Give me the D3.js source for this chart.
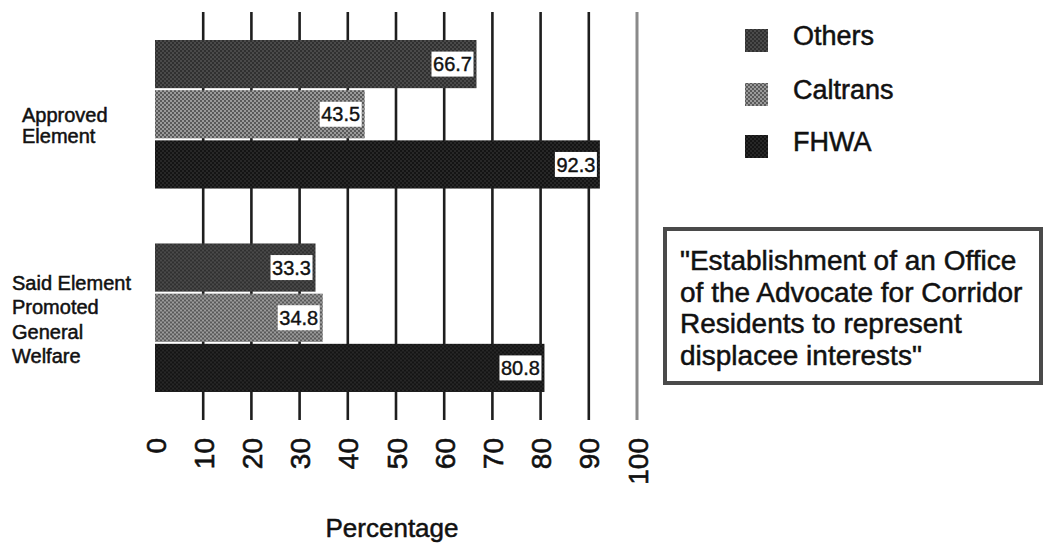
<!DOCTYPE html>
<html>
<head>
<meta charset="utf-8">
<script src="https://cdn.jsdelivr.net/npm/d3@7"></script>
<style>
  html, body { margin: 0; padding: 0; background: #fff; }
  svg { display: block; font-family: "Liberation Sans", Arial, Helvetica, sans-serif; }
</style>
</head>
<body>
<svg id="chart" width="1047" height="545"></svg>
<script>
// ---- data ----
const categories = ["Approved Element", "Said Element Promoted General Welfare"];
const categoryLines = [["Approved", "Element"], ["Said Element", "Promoted", "General", "Welfare"]];
const seriesNames = ["Others", "Caltrans", "FHWA"];
const othersValues = [66.7, 33.3];
const caltransValues = [43.5, 34.8];
const fhwaValues = [92.3, 80.8];
const tickValues = [0, 10, 20, 30, 40, 50, 60, 70, 80, 90, 100];
const axisTitle = "Percentage";
const noteLines = ["\"Establishment of an Office", "of the Advocate for Corridor", "Residents to represent", "displacee interests\""];

const seriesValues = { Others: othersValues, Caltrans: caltransValues, FHWA: fhwaValues };

const svg = d3.select("#chart");
const defs = svg.append("defs");

// halftone-like patterns
function dotPattern(id, base, dot, r, size) {
  const p = defs.append("pattern").attr("id", id).attr("patternUnits", "userSpaceOnUse")
    .attr("width", size).attr("height", size);
  p.append("rect").attr("width", size).attr("height", size).attr("fill", base);
  p.append("circle").attr("cx", size / 4).attr("cy", size / 4).attr("r", r).attr("fill", dot);
  p.append("circle").attr("cx", 3 * size / 4).attr("cy", 3 * size / 4).attr("r", r).attr("fill", dot);
}
dotPattern("pOthers", "#303030", "#6a6a6a", 0.8, 4);
dotPattern("pCaltrans", "#9a9a9a", "#3a3a3a", 0.9, 4);
dotPattern("pFHWA", "#141414", "#474747", 0.7, 4);
const fills = { Others: "url(#pOthers)", Caltrans: "url(#pCaltrans)", FHWA: "url(#pFHWA)" };

// ---- scales ----
const x = d3.scaleLinear().domain([0, 100]).range([155, 637]);
const y0 = d3.scaleBand().domain(categories).range([40, 392]).paddingInner(0.27).paddingOuter(0);
const y1 = d3.scaleBand().domain(seriesNames).range([0, y0.bandwidth()]).paddingInner(0.04);

// ---- gridlines ----
const grid = svg.append("g");
grid.selectAll("line").data(tickValues.filter(d => d > 0)).join("line")
  .attr("x1", d => x(d)).attr("x2", d => x(d))
  .attr("y1", 12).attr("y2", 420)
  .attr("stroke", d => d === 100 ? "#8a8a8a" : "#1e1e1e")
  .attr("stroke-width", d => d === 100 ? 3 : 2.6);

// ---- bars ----
const groups = svg.append("g").selectAll("g").data(categories).join("g")
  .attr("transform", d => `translate(0,${y0(d)})`);

groups.each(function (cat, ci) {
  const g = d3.select(this);
  seriesNames.forEach(s => {
    const v = seriesValues[s][ci];
    g.append("rect")
      .attr("x", x(0)).attr("y", y1(s))
      .attr("width", x(v) - x(0)).attr("height", y1.bandwidth())
      .attr("fill", fills[s]);
    const bw = 42, bh = 25;
    g.append("rect")
      .attr("x", x(v) - bw - 3).attr("y", y1(s) + (y1.bandwidth() - bh) / 2)
      .attr("width", bw).attr("height", bh).attr("fill", "#fff");
    g.append("text")
      .attr("x", x(v) - 3 - bw / 2).attr("y", y1(s) + y1.bandwidth() / 2)
      .attr("dy", "0.36em").attr("text-anchor", "middle")
      .attr("font-size", 20).attr("fill", "#111")
      .attr("stroke", "#111").attr("stroke-width", 0.4)
      .text(d3.format(".1f")(v));
  });
});

// ---- category labels ----
const catX = [22, 12];
const catLead = [21, 24.5];
const catShift = [11, 2];
categories.forEach((c, i) => {
  const lines = categoryLines[i];
  const cy = y0(c) + y0.bandwidth() / 2 + catShift[i];
  const t = svg.append("text").attr("font-size", 20).attr("fill", "#111")
    .attr("stroke", "#111").attr("stroke-width", 0.5);
  lines.forEach((ln, j) => {
    t.append("tspan").attr("x", catX[i])
      .attr("y", cy + (j - (lines.length - 1) / 2) * catLead[i])
      .attr("dy", "0.35em").text(ln);
  });
});

// ---- x axis tick labels (rotated) ----
const axis = d3.axisBottom(x).tickValues(tickValues).tickSize(0).tickPadding(0);
const ax = svg.append("g").attr("transform", "translate(0,438)").call(axis);
ax.select(".domain").remove();
ax.selectAll("text")
  .attr("font-size", 28).attr("fill", "#111")
  .attr("stroke", "#111").attr("stroke-width", 0.6)
  .attr("font-family", "\"Liberation Sans\", Arial, sans-serif")
  .attr("transform", "rotate(-90)")
  .attr("text-anchor", "end")
  .attr("x", 0).attr("y", 0).attr("dy", "0.36em");

svg.append("text").attr("x", 392).attr("y", 537).attr("text-anchor", "middle")
  .attr("font-size", 26).attr("fill", "#111")
  .attr("stroke", "#111").attr("stroke-width", 0.5).text(axisTitle);

// ---- legend ----
const legY = [29, 83, 135];
const leg = svg.append("g");
seriesNames.forEach((s, i) => {
  leg.append("rect").attr("x", 745).attr("y", legY[i]).attr("width", 23).attr("height", 23).attr("fill", fills[s]);
  leg.append("text").attr("x", 793).attr("y", legY[i] + 16).attr("font-size", 27).attr("fill", "#111")
    .attr("stroke", "#111").attr("stroke-width", 0.5).text(s);
});

// ---- note box ----
svg.append("rect").attr("x", 665).attr("y", 229).attr("width", 376).attr("height", 154)
  .attr("fill", "#fff").attr("stroke", "#4a4a4a").attr("stroke-width", 4);
const nt = svg.append("text").attr("font-size", 28).attr("fill", "#111")
  .attr("stroke", "#111").attr("stroke-width", 0.5);
noteLines.forEach((ln, j) => {
  nt.append("tspan").attr("x", 680).attr("y", 270 + j * 31.5).text(ln);
});
</script>
</body>
</html>
